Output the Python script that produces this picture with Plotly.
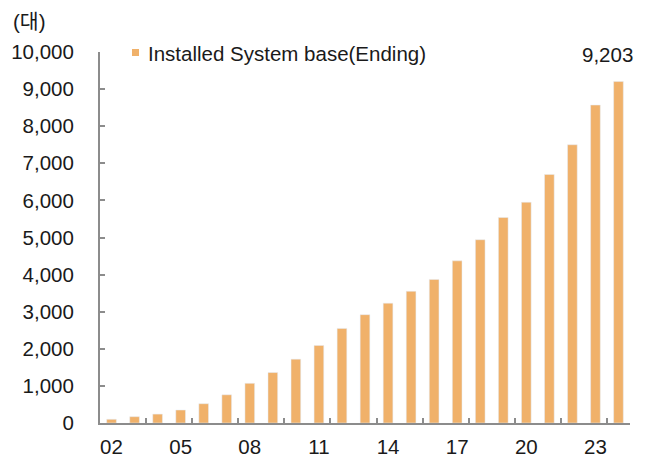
import plotly.graph_objects as go

years = ["02","03","04","05","06","07","08","09","10","11","12","13","14","15","16","17","18","19","20","21","22","23","24"]
values = [100, 170, 240, 350, 520, 760, 1070, 1360, 1720, 2090, 2550, 2920, 3230, 3550, 3870, 4370, 4940, 5540, 5950, 6700, 7500, 8570, 9203]
label_years = ["02","05","08","11","14","17","20","23"]
y_ticks = list(range(0, 10001, 1000))
y_ticktext = [f"{v:,}" for v in y_ticks]
series_name = "Installed System base(Ending)"
unit_label = "(대)"

FONT = "Liberation Sans, Arial, Noto Sans CJK KR"
FS = 20.5
BAR = "#F0B16A"
AXIS = "#8C8C8C"
TXT = "#1a1a1a"

idx = list(range(len(years)))
label_pos = [years.index(y) for y in label_years]
minor_pos = [i + 0.5 for i in range(1, len(years) - 1, 2)]

fig = go.Figure()
fig.add_trace(go.Bar(x=idx, y=values, width=0.42, marker_color=BAR,
                     name=series_name, showlegend=False))
# invisible trace to host secondary x-axis ticks
fig.add_trace(go.Scatter(x=[0], y=[0], xaxis="x2", mode="markers",
                         marker=dict(opacity=0), showlegend=False, hoverinfo="skip"))

fig.add_annotation(x=idx[-1], y=values[-1], text=f"{values[-1]:,}", showarrow=False,
                   yanchor="bottom", yshift=14, xanchor="center", xshift=-11,
                   font=dict(family=FONT, size=FS, color=TXT))
fig.add_annotation(xref="paper", yref="paper", x=-0.168, y=1.082, xanchor="left", yanchor="middle",
                   text=unit_label, showarrow=False, font=dict(family=FONT, size=FS, color=TXT))

# manual legend
fig.add_shape(type="rect", xref="paper", yref="paper", x0=0.0604, x1=0.0736, y0=0.9892, y1=1.0081,
              fillcolor=BAR, line=dict(width=0))
fig.add_annotation(xref="paper", yref="paper", x=0.0868, y=0.997, xanchor="left", yanchor="middle",
                   text=series_name, showarrow=False, font=dict(family=FONT, size=FS, color=TXT))

fig.update_layout(
    width=649, height=462,
    margin=dict(l=100, r=19, t=52, b=39),
    paper_bgcolor="white", plot_bgcolor="white",
    font=dict(family=FONT, size=FS, color=TXT),
    showlegend=False,
    xaxis=dict(range=[-0.5, len(years) - 0.5], tickmode="array", tickvals=label_pos,
               ticktext=label_years, ticks="", showline=True, linecolor=AXIS, linewidth=2,
               showgrid=False, zeroline=False, tickfont=dict(size=FS, color=TXT),
               ticklabelstandoff=4, automargin=False),
    xaxis2=dict(overlaying="x", matches="x", range=[-0.5, len(years) - 0.5], tickmode="array",
                tickvals=minor_pos, ticks="inside", ticklen=5, tickcolor=AXIS, tickwidth=2,
                showticklabels=False, showline=False, showgrid=False, zeroline=False,
                anchor="y", side="bottom", automargin=False),
    yaxis=dict(range=[0, 10000], tickmode="array", tickvals=y_ticks, ticktext=y_ticktext,
               ticks="inside", ticklen=5, tickcolor=AXIS, tickwidth=2, showline=True,
               linecolor=AXIS, linewidth=2, showgrid=False, zeroline=False,
               ticklabelstandoff=20, tickfont=dict(size=FS, color=TXT), automargin=False),
)

fig.write_html("out.html")
